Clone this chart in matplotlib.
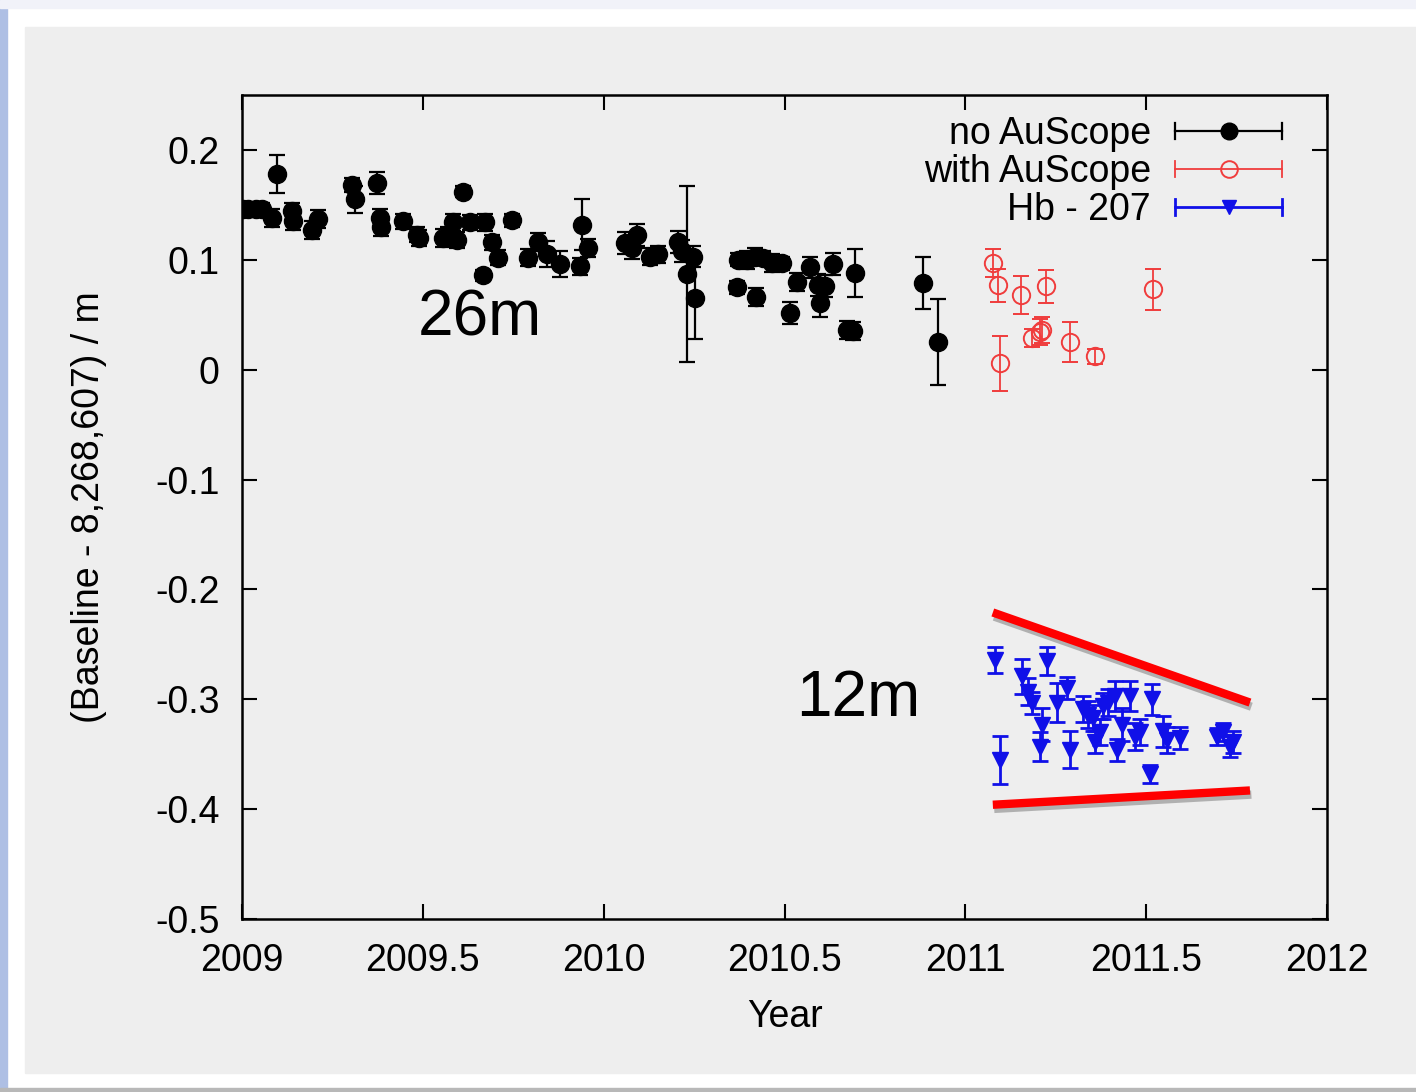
import numpy as np
import matplotlib.pyplot as plt
from matplotlib.lines import Line2D
from matplotlib.patches import Rectangle
from matplotlib.legend_handler import HandlerBase
import matplotlib.patheffects as pe

plt.rcParams['font.family'] = ['Liberation Sans', 'DejaVu Sans']

# -------- data: no AuScope (26m) --------
no_year = [2009.003, 2009.017, 2009.039, 2009.055, 2009.083, 2009.097, 2009.138, 2009.140,
           2009.194, 2009.210, 2009.304, 2009.312, 2009.373, 2009.382, 2009.384, 2009.445,
           2009.484, 2009.490, 2009.556, 2009.570, 2009.583, 2009.594, 2009.611, 2009.630,
           2009.666, 2009.672, 2009.691, 2009.708, 2009.746, 2009.791, 2009.818, 2009.843,
           2009.879, 2009.934, 2009.940, 2009.957, 2010.059, 2010.078, 2010.092, 2010.128,
           2010.150, 2010.205, 2010.216, 2010.230, 2010.247, 2010.252, 2010.369, 2010.371,
           2010.396, 2010.418, 2010.420, 2010.440, 2010.465, 2010.493, 2010.515, 2010.534,
           2010.570, 2010.592, 2010.598, 2010.612, 2010.634, 2010.673, 2010.689, 2010.695,
           2010.883, 2010.924]
no_val = [0.146, 0.146, 0.146, 0.146, 0.138, 0.178, 0.144, 0.135,
          0.127, 0.137, 0.168, 0.155, 0.170, 0.138, 0.130, 0.135,
          0.123, 0.120, 0.120, 0.122, 0.134, 0.118, 0.162, 0.134,
          0.086, 0.134, 0.116, 0.102, 0.136, 0.102, 0.116, 0.105,
          0.096, 0.094, 0.132, 0.111, 0.115, 0.111, 0.123, 0.103,
          0.105, 0.116, 0.108, 0.087, 0.103, 0.065, 0.075, 0.100,
          0.100, 0.103, 0.066, 0.102, 0.097, 0.097, 0.052, 0.080,
          0.093, 0.077, 0.061, 0.076, 0.096, 0.036, 0.035, 0.088,
          0.079, 0.025]
no_err = [0.006, 0.006, 0.006, 0.006, 0.008, 0.017, 0.008, 0.008,
          0.008, 0.008, 0.006, 0.012, 0.010, 0.008, 0.008, 0.007,
          0.007, 0.007, 0.008, 0.008, 0.008, 0.007, 0.005, 0.007,
          0.005, 0.008, 0.007, 0.007, 0.006, 0.008, 0.008, 0.012,
          0.012, 0.008, 0.023, 0.008, 0.010, 0.010, 0.010, 0.008,
          0.008, 0.010, 0.010, 0.080, 0.010, 0.037, 0.006, 0.006,
          0.008, 0.008, 0.008, 0.006, 0.008, 0.006, 0.010, 0.008,
          0.010, 0.010, 0.013, 0.010, 0.010, 0.008, 0.008, 0.022,
          0.024, 0.039]

# -------- data: with AuScope --------
with_year = [2011.076, 2011.090, 2011.096, 2011.154, 2011.184, 2011.206, 2011.212,
             2011.223, 2011.289, 2011.358, 2011.519]
with_val = [0.097, 0.077, 0.006, 0.068, 0.029, 0.034, 0.036, 0.076, 0.025, 0.012, 0.073]
with_err = [0.013, 0.015, 0.025, 0.017, 0.008, 0.012, 0.012, 0.015, 0.018, 0.007, 0.019]

# -------- data: Hb - 207 (12m) --------
hb_year = [2011.082, 2011.096, 2011.157, 2011.173, 2011.184, 2011.206, 2011.212, 2011.226,
           2011.253, 2011.281, 2011.289, 2011.325, 2011.339, 2011.353, 2011.358, 2011.372,
           2011.380, 2011.394, 2011.414, 2011.419, 2011.433, 2011.455, 2011.469, 2011.483,
           2011.510, 2011.516, 2011.546, 2011.557, 2011.593, 2011.696, 2011.712, 2011.732,
           2011.740]
hb_val = [-0.264, -0.355, -0.279, -0.293, -0.303, -0.343, -0.323, -0.265,
          -0.303, -0.290, -0.346, -0.309, -0.314, -0.317, -0.339, -0.330,
          -0.306, -0.303, -0.297, -0.346, -0.323, -0.297, -0.334, -0.330,
          -0.368, -0.300, -0.329, -0.337, -0.335, -0.334, -0.330, -0.343,
          -0.339]
hb_err = [0.012, 0.022, 0.016, 0.012, 0.010, 0.013, 0.015, 0.013,
          0.018, 0.010, 0.017, 0.012, 0.012, 0.012, 0.010, 0.012,
          0.012, 0.012, 0.014, 0.010, 0.015, 0.014, 0.012, 0.012,
          0.008, 0.014, 0.014, 0.012, 0.010, 0.008, 0.008, 0.010,
          0.010]

# red envelope lines drawn on top of the 12m data
env_x = [2011.076, 2011.787]
env_upper = [-0.221, -0.303]
env_lower = [-0.396, -0.383]

fig = plt.figure(figsize=(14.16, 10.92), dpi=100)
fig.patch.set_facecolor('white')
W, H = 1416, 1092
# slide-like frame around the plot
fig.add_artist(Rectangle((0, 0), 7 / W, 1, transform=fig.transFigure, color='#aebfe4', zorder=-10))
fig.add_artist(Rectangle((0, 1 - 8 / H), 1, 8 / H, transform=fig.transFigure, color='#f1f2f9', zorder=-10))
fig.add_artist(Rectangle((0, 0), 1, 4 / H, transform=fig.transFigure, color='#b8b8b8', zorder=-10))
fig.add_artist(Rectangle((25 / W, 1 - 1073 / H), 1 - 25 / W, (1073 - 27) / H,
                         transform=fig.transFigure, color='#eeeeee', zorder=-9))

ax = fig.add_axes([242 / W, 1 - 919 / H, (1327 - 242) / W, (919 - 95) / H])
ax.patch.set_alpha(0)

ax.errorbar(no_year, no_val, yerr=no_err, fmt='o', color='black', ms=13,
            capsize=6, elinewidth=1.6, capthick=1.6)
ax.errorbar(with_year, with_val, yerr=with_err, fmt='o', color='#f03c3c', mfc='none', ms=12.5,
            mew=1.4, capsize=6, elinewidth=1.3, capthick=1.3)
ax.errorbar(hb_year, hb_val, yerr=hb_err, fmt='v', color='#1010e8', ms=11,
            capsize=5.5, elinewidth=2, capthick=2)

shadow = [pe.SimpleLineShadow(offset=(1, -3), shadow_color='#888888', alpha=0.6), pe.Normal()]
ax.plot(env_x, env_upper, color='red', lw=6, solid_capstyle='butt', path_effects=shadow)
ax.plot(env_x, env_lower, color='red', lw=6, solid_capstyle='butt', path_effects=shadow)

ax.text(2009.658, 0.047, '26m', fontsize=46, ha='center', va='center')
ax.text(2010.703, -0.300, '12m', fontsize=46, ha='center', va='center')

ax.set_xlim(2009, 2012)
ax.set_ylim(-0.5, 0.25)
ax.set_xticks([2009, 2009.5, 2010, 2010.5, 2011, 2011.5, 2012])
ax.set_xticklabels(['2009', '2009.5', '2010', '2010.5', '2011', '2011.5', '2012'])
yt = [0.2, 0.1, 0, -0.1, -0.2, -0.3, -0.4, -0.5]
ax.set_yticks(yt)
ax.set_yticklabels(['0.2', '0.1', '0', '-0.1', '-0.2', '-0.3', '-0.4', '-0.5'])
ax.tick_params(direction='in', length=11, width=1.5, labelsize=27, top=True, right=True)
ax.tick_params(axis='x', pad=17)
ax.tick_params(axis='y', pad=16)
for s in ax.spines.values():
    s.set_linewidth(1.8)

ax.set_xlabel('Year', fontsize=27)
ax.xaxis.set_label_coords(0.5, -0.097)
ax.set_ylabel('(Baseline - 8,268,607) / m', fontsize=27)
ax.yaxis.set_label_coords(-0.124, 0.5)


class ErrHandler(HandlerBase):
    def create_artists(self, legend, orig, xd, yd, w, h, fontsize, trans):
        c = orig.get_color()
        yc = -yd + h / 2
        x0, x1 = -xd, -xd + w
        lw = orig.get_linewidth()
        cap = h * 0.3
        arts = [Line2D([x0, x1], [yc, yc], color=c, lw=lw),
                Line2D([x0, x0], [yc - cap, yc + cap], color=c, lw=lw),
                Line2D([x1, x1], [yc - cap, yc + cap], color=c, lw=lw),
                Line2D([(x0 + x1) / 2], [yc], marker=orig.get_marker(), ms=orig.get_markersize(),
                       color=c, mfc=orig.get_markerfacecolor(), mew=orig.get_markeredgewidth(),
                       ls='none')]
        for a in arts:
            a.set_transform(trans)
        return arts


h1 = Line2D([], [], color='black', marker='o', ms=12, lw=1.6)
h2 = Line2D([], [], color='#f03c3c', marker='o', mfc='none', ms=12, mew=1.4, lw=1.3)
h3 = Line2D([], [], color='#1010e8', marker='v', ms=10, lw=2)
hm = ErrHandler()
ax.legend([h1, h2, h3], ['no AuScope', 'with AuScope', 'Hb - 207'],
          handler_map={h1: hm, h2: hm, h3: hm}, loc='upper right',
          bbox_to_anchor=((1282 - 242) / 1085, (919 - 116) / 824),
          frameon=False, markerfirst=False, fontsize=27, handlelength=2.85,
          handletextpad=0.65, labelspacing=0.05, borderpad=0, borderaxespad=0)

fig.savefig('out.png', dpi=100)
